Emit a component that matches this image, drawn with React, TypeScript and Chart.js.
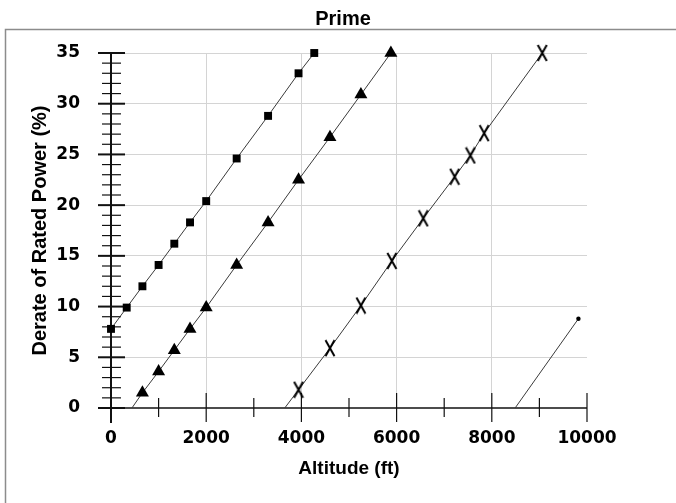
import React, { useEffect, useRef } from "react";
import { Chart, registerables } from "chart.js";

Chart.register(...registerables);

// ---- data (altitude in ft, derate in %) ----
const squareAltitude = [0, 330, 660, 1000, 1330, 1660, 2000, 2640, 3300, 3940, 4270];
const squareDerate = [7.8, 9.9, 12.0, 14.1, 16.2, 18.3, 20.4, 24.6, 28.8, 33.0, 35.0];

const triangleAltitude = [440, 660, 1000, 1330, 1660, 2000, 2640, 3300, 3940, 4600, 5250, 5880];
const triangleDerate = [0, 1.5, 3.6, 5.7, 7.8, 9.9, 14.1, 18.3, 22.5, 26.7, 30.9, 35.0];

const crossAltitude = [3650, 3940, 4600, 5250, 5900, 6560, 7220, 7550, 7840, 9060];
const crossDerate = [0, 1.8, 5.9, 10.1, 14.5, 18.7, 22.8, 24.9, 27.1, 35.0];

const dotAltitude = [8490, 9820];
const dotDerate = [0, 8.8];

const xMin = 0;
const xMax = 10000;
const xStep = 2000;
const xMinorStep = 1000;
const yMin = 0;
const yMax = 35;
const yStep = 5;
const yMinorStep = 1;

const chartTitle = "Prime";
const xTitle = "Altitude (ft)";
const yTitle = "Derate of Rated Power (%)";

const toPoints = (xs: number[], ys: number[]) => xs.map((x, i) => ({ x, y: ys[i] }));

export default function App() {
  const ref = useRef<HTMLCanvasElement>(null);

  useEffect(() => {
    const canvas = ref.current!;

    const xMark = document.createElement("canvas");
    xMark.width = 12;
    xMark.height = 18;
    const mctx = xMark.getContext("2d")!;
    mctx.strokeStyle = "#000";
    mctx.lineWidth = 2;
    mctx.beginPath();
    mctx.moveTo(1.5, 1);
    mctx.lineTo(10.5, 17);
    mctx.moveTo(10.5, 1);
    mctx.lineTo(1.5, 17);
    mctx.stroke();

    const framePlugin = {
      id: "frame",
      beforeDraw(chart: any) {
        const ctx = chart.ctx;
        ctx.save();
        ctx.strokeStyle = "#8c8c8c";
        ctx.lineWidth = 1.5;
        ctx.strokeRect(5.5, 29.5, 900, 900);
        ctx.restore();
      },
      beforeDatasetsDraw(chart: any) {
        const xs = chart.scales.x;
        const ys = chart.scales.y;
        const ctx = chart.ctx;
        const ax = xs.getPixelForValue(xMin);
        const y0 = ys.getPixelForValue(yMin);
        const yTop = ys.getPixelForValue(yMax);
        const xRight = xs.getPixelForValue(xMax);
        ctx.save();
        ctx.strokeStyle = "#111";
        const seg = (a: number, b: number, c: number, d: number, w: number) => {
          ctx.lineWidth = w;
          ctx.beginPath();
          ctx.moveTo(a, b);
          ctx.lineTo(c, d);
          ctx.stroke();
        };
        // y axis
        seg(ax, yTop, ax, y0 + 15, 2);
        for (let v = yMin; v <= yMax; v += yMinorStep) {
          const p = ys.getPixelForValue(v);
          if (v % yStep === 0) seg(ax - 13, p, ax + 14, p, 2);
          else seg(ax - 9, p, ax + 10, p, 1.2);
        }
        // x axis
        seg(ax - 13, y0, xRight, y0, 1.5);
        for (let v = xMin + xMinorStep; v <= xMax; v += xMinorStep) {
          const p = xs.getPixelForValue(v);
          if (v % xStep === 0) seg(p, y0 - 15, p, y0 + 14, 1.2);
          else seg(p, y0 - 10, p, y0 + 9, 1.2);
        }
        ctx.restore();
      },
    };

    const lineColor = "#3a3a3a";
    const tickFont = { family: "'DejaVu Sans'", size: 17, weight: "bold" as const };

    const chart = new Chart(canvas, {
      type: "scatter",
      data: {
        datasets: [
          {
            data: toPoints(squareAltitude, squareDerate),
            showLine: true,
            borderColor: lineColor,
            borderWidth: 1,
            pointStyle: "rect",
            pointRadius: 5.6,
            pointBackgroundColor: "#000",
            pointBorderColor: "#000",
            pointBorderWidth: 0,
            clip: false,
          },
          {
            data: toPoints(triangleAltitude, triangleDerate),
            showLine: true,
            borderColor: lineColor,
            borderWidth: 1,
            pointStyle: "triangle",
            pointRadius: triangleAltitude.map((_, i) => (i === 0 ? 0 : 7.5)),
            pointBackgroundColor: "#000",
            pointBorderColor: "#000",
            pointBorderWidth: 0,
            clip: false,
          },
          {
            data: toPoints(crossAltitude, crossDerate),
            showLine: true,
            borderColor: lineColor,
            borderWidth: 1,
            pointStyle: xMark as any,
            pointRadius: crossAltitude.map((_, i) => (i === 0 ? 0 : 8)),
            clip: false,
          },
          {
            data: toPoints(dotAltitude, dotDerate),
            showLine: true,
            borderColor: lineColor,
            borderWidth: 1,
            pointStyle: "circle",
            pointRadius: dotAltitude.map((_, i) => (i === 0 ? 0 : 2.2)),
            pointBackgroundColor: "#000",
            pointBorderColor: "#000",
            pointBorderWidth: 0,
            clip: false,
          },
        ],
      },
      options: {
        animation: false,
        responsive: false,
        events: [],
        layout: { padding: { left: 10, right: 0, top: 0, bottom: 0 } },
        plugins: {
          legend: { display: false },
          tooltip: { enabled: false },
          title: {
            display: true,
            text: chartTitle,
            color: "#000",
            font: { family: "'Liberation Sans'", size: 20, weight: "bold" },
            padding: { top: 7, bottom: 22 },
          },
        },
        scales: {
          x: {
            type: "linear",
            position: "bottom",
            min: xMin,
            max: xMax,
            ticks: {
              stepSize: xStep,
              color: "#000",
              font: tickFont,
              padding: 20,
              maxRotation: 0,
              callback: (v: any) => String(v),
            },
            grid: {
              drawTicks: false,
              color: (c: any) =>
                c.tick && (c.tick.value === xMin || c.tick.value === xMax) ? "rgba(0,0,0,0)" : "#d4d4d4",
              lineWidth: 1,
            },
            border: { display: false },
            title: {
              display: true,
              text: xTitle,
              color: "#000",
              font: { family: "'Liberation Sans'", size: 19, weight: "bold" },
              padding: { top: 0, bottom: 23 },
            },
            afterFit: (s: any) => {
              s.height = 95;
            },
          },
          y: {
            type: "linear",
            position: "left",
            min: yMin,
            max: yMax,
            ticks: {
              stepSize: yStep,
              color: "#000",
              font: tickFont,
              padding: 31,
            },
            grid: {
              drawTicks: false,
              color: (c: any) => (c.tick && c.tick.value === yMin ? "rgba(0,0,0,0)" : "#d4d4d4"),
              lineWidth: 1,
            },
            border: { display: false },
            title: {
              display: true,
              text: yTitle,
              color: "#000",
              font: { family: "'Liberation Sans'", size: 20, weight: "bold" },
              padding: { top: 18, bottom: 0 },
            },
            afterFit: (s: any) => {
              s.width = 101;
            },
          },
          yRight: {
            type: "linear",
            position: "right",
            display: true,
            ticks: { display: false },
            grid: { display: false },
            border: { display: false },
            afterFit: (s: any) => {
              s.width = 89;
            },
          },
        },
      },
      plugins: [framePlugin],
    });

    return () => chart.destroy();
  }, []);

  return (
    <div style={{ position: "fixed", left: 0, top: 0, width: 676, height: 503, background: "#fff" }}>
      <canvas ref={ref} width={676} height={503} style={{ display: "block" }} />
    </div>
  );
}
